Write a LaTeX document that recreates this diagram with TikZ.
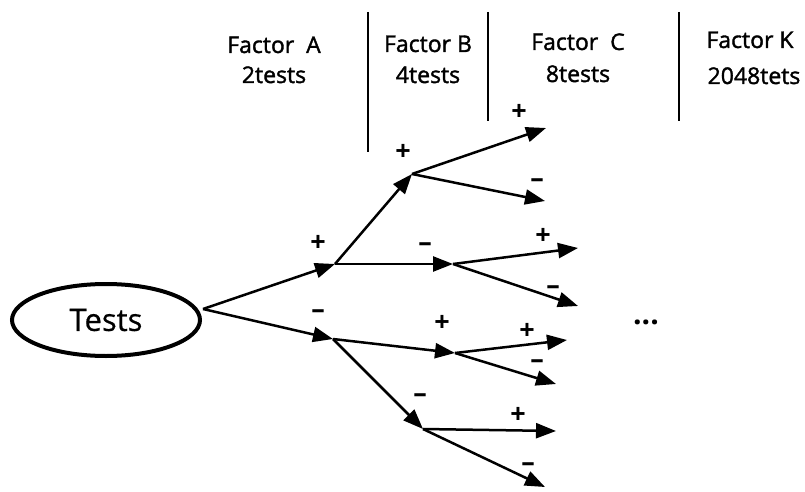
\documentclass[tikz,border=0pt]{standalone}
\usepackage{fontspec}
\setmainfont{Open Sans}
\usetikzlibrary{arrows.meta,shapes.geometric}
\begin{document}
\begin{tikzpicture}[x=1pt,y=-1pt,
  arr/.style={line width=2.5pt,-{Triangle[length=20pt,width=15pt]}},
  head/.style={font=\fontsize{23}{26}\selectfont\addfontfeatures{FakeBold=1.5}, anchor=base, inner sep=0pt},
  sgn/.style={font=\fontsize{27}{30}\selectfont\bfseries, inner sep=0pt},
  divider/.style={line width=2.8pt},
  root/.style={draw, ellipse, line width=4pt, minimum width=188pt, minimum height=72pt, inner sep=0pt, font=\fontsize{31}{34}\selectfont\addfontfeatures{FakeBold=0.6}}]
\useasboundingbox (0,0) rectangle (805,492);

% headers
\node[head] (ha1) at (274,53) {Factor\ \ A};
\node[head] (ha2) at (274,83) {2tests};
\node[head] (hb1) at (428,52) {Factor B};
\node[head] (hb2) at (428,83) {4tests};
\node[head] (hc1) at (578,50) {Factor\ \ C};
\node[head] (hc2) at (578,82) {8tests};
\node[head] (hk1) at (750,48) {Factor K};
\node[head] (hk2) at (754,84) {2048tets};

% dividers
\coordinate (d1t) at (368,12); \coordinate (d1b) at (368,152);
\coordinate (d2t) at (488,12); \coordinate (d2b) at (488,121);
\coordinate (d3t) at (679,12); \coordinate (d3b) at (679,121);
\draw[divider] (d1t) -- (d1b);
\draw[divider] (d2t) -- (d2b);
\draw[divider] (d3t) -- (d3b);

% root
\node[root] (tests) at (106,320) {Tests};
\coordinate (r) at (203,309);

% level A
\coordinate (ap) at (335,264);
\coordinate (am) at (333,339);
% level B
\coordinate (bpp) at (412,174);
\coordinate (bpm) at (453,264);
\coordinate (bmp) at (455,353);
\coordinate (bmm) at (423,429);
% level C
\coordinate (c1) at (546,128);
\coordinate (c2) at (545,201);
\coordinate (c3) at (578,248);
\coordinate (c4) at (578,306);
\coordinate (c5) at (567,340);
\coordinate (c6) at (556,384);
\coordinate (c7) at (556,431);
\coordinate (c8) at (545,487);

\draw[arr] (r) -- (ap);
\draw[arr] (r) -- (am);
\draw[arr] (ap) -- (bpp);
\draw[arr] (ap) -- (bpm);
\draw[arr] (am) -- (bmp);
\draw[arr] (am) -- (bmm);
\draw[arr] (bpp) -- (c1);
\draw[arr] (bpp) -- (c2);
\draw[arr] (bpm) -- (c3);
\draw[arr] (bpm) -- (c4);
\draw[arr] (bmp) -- (c5);
\draw[arr] (bmp) -- (c6);
\draw[arr] (bmm) -- (c7);
\draw[arr] (bmm) -- (c8);

% signs
\node[sgn] (sap) at (318,243) {+};
\node[sgn] (sam) at (318,314) {–};
\node[sgn] (sbpp) at (403,152) {+};
\node[sgn] (sbpm) at (425,247) {–};
\node[sgn] (sbmp) at (442,323) {+};
\node[sgn] (sbmm) at (420,398) {–};
\node[sgn] (sc1) at (519,112) {+};
\node[sgn] (sc2) at (537,183) {–};
\node[sgn] (sc3) at (543,236) {+};
\node[sgn] (sc4) at (553,290) {–};
\node[sgn] (sc5) at (527,331) {+};
\node[sgn] (sc6) at (537,364) {–};
\node[sgn] (sc7) at (518,415) {+};
\node[sgn] (sc8) at (528,467) {–};

% ellipsis
\node[font=\fontsize{30}{32}\selectfont\bfseries, inner sep=0pt] (dots) at (646,322) {...};
\end{tikzpicture}
\end{document}
